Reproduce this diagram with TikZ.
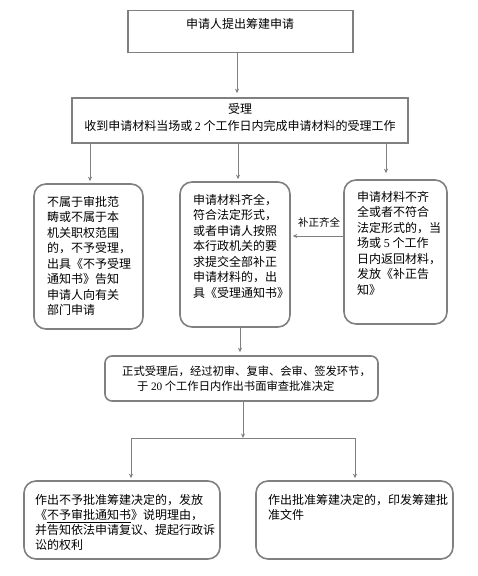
\documentclass[tikz,border=0pt]{standalone}
\usepackage{fontspec}
\setmainfont{Noto Sans CJK SC}
\newfontfamily\numfont{Liberation Serif}
\usetikzlibrary{arrows.meta}
\definecolor{linegray}{HTML}{808080}
\begin{document}
\begin{tikzpicture}[x=1pt,y=-1pt,
  box/.style={draw=linegray, line width=1.6pt, inner sep=0pt},
  rbox/.style={box, rounded corners=12pt},
  txt/.style={inner sep=0pt, anchor=north west, align=left, font=\fontsize{12}{15.5}\selectfont},
  arr/.style={draw=linegray, line width=0.8pt, -{Stealth[length=4.5pt,width=4pt]}},
  ln/.style={draw=linegray, line width=0.8pt}]
\useasboundingbox (0,0) rectangle (478,576);
% boxes
\node[box, minimum width=225pt, minimum height=42pt] (b1) at (240.5,31.5) {};
\node[box, minimum width=336pt, minimum height=45pt] (b2) at (240,120.5) {};
\node[rbox, minimum width=109pt, minimum height=145pt] (lb) at (88.5,256.5) {};
\node[rbox, minimum width=110pt, minimum height=145pt] (mb) at (235,254.5) {};
\node[rbox, minimum width=103pt, minimum height=144pt] (rb) at (395.5,252) {};
\node[box, rounded corners=7pt, minimum width=273pt, minimum height=45pt] (b4) at (241.5,378.5) {};
\node[rbox, minimum width=196pt, minimum height=78pt] (bl) at (122,520) {};
\node[rbox, minimum width=197pt, minimum height=78pt] (br) at (354.5,520) {};
% texts
\node[inner sep=0pt, font=\fontsize{12}{15}\selectfont] (t1) at (240,24) {申请人提出筹建申请};
\node[inner sep=0pt, align=center, font=\fontsize{12}{17}\selectfont] (t2) at (240,117.5)
  {受理\\收到申请材料当场或 {\numfont 2} 个工作日内完成申请材料的受理工作};
\node[txt] (tl) at (47,196) {不属于审批范\\畴或不属于本\\机关职权范围\\的，不予受理，\\出具《不予受理\\通知书》告知\\申请人向有关\\部门申请};
\node[txt] (tm) at (193,194) {申请材料齐全，\\符合法定形式，\\或者申请人按照\\本行政机关的要\\求提交全部补正\\申请材料的，出\\具《受理通知书》};
\node[txt] (tr) at (357,191) {申请材料不齐\\全或者不符合\\法定形式的，当\\场或 {\numfont 5} 个工作\\日内返回材料，\\发放《补正告\\知》};
\node[txt, font=\fontsize{11.3}{15}\selectfont] (t4) at (122,366) {正式受理后，经过初审、复审、会审、签发环节，\\\hspace*{15pt}于 {\numfont 20} 个工作日内作出书面审查批准决定};
\node[txt, font=\fontsize{12}{15}\selectfont] (tbl) at (35,494) {作出不予批准筹建决定的，发放\\《\underline{不予审批通知书}》说明理由，\\并告知依法申请复议、提起行政诉\\讼的权利};
\node[txt, font=\fontsize{12}{15}\selectfont] (tbr) at (268,494) {作出批准筹建决定的，印发筹建批\\准文件};
\node[inner sep=0pt, font=\fontsize{10.5}{12}\selectfont] (lab) at (319,222) {补正齐全};
% connectors
\draw[arr, shorten >=4pt] ([xshift=-3.5pt]b1.south) -- ([xshift=-3.5pt]b1.south |- b2.north);
\draw[arr, shorten >=2pt] ([xshift=1.5pt]lb.north |- b2.south) -- ([xshift=1.5pt]lb.north);
\draw[arr, shorten >=2pt] ([xshift=3pt]mb.north |- b2.south) -- ([xshift=3pt]mb.north);
\draw[arr, shorten >=6pt] ([xshift=-9.5pt]rb.north |- b2.south) -- ([xshift=-9.5pt]rb.north);
\draw[arr, shorten >=2pt] (rb.west |- 0,236) -- (mb.east |- 0,236);
\draw[arr, shorten >=3pt] ([xshift=5pt]mb.south) -- ([xshift=5pt]mb.south |- b4.north);
\coordinate (sp) at (243,438);
\coordinate (spl) at (131,438);
\coordinate (spr) at (355,438);
\draw[arr] (b4.south -| sp) -- (sp);
\draw[ln] (spl) -- (spr);
\draw[arr, shorten >=2pt] (spl) -- (spl |- bl.north);
\draw[arr, shorten >=2pt] (spr) -- (spr |- br.north);
\end{tikzpicture}
\end{document}
